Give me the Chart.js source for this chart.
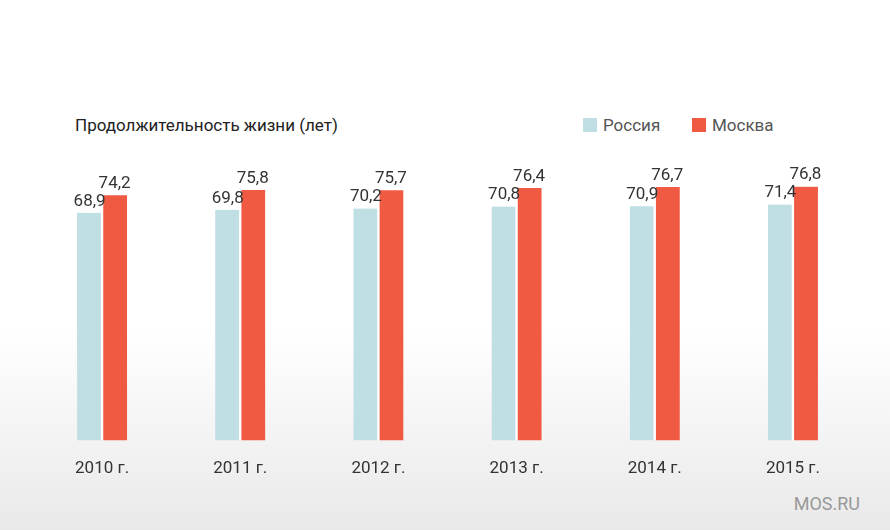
<!DOCTYPE html>
<html><head><meta charset="utf-8">
<script src="https://cdn.jsdelivr.net/npm/chart.js@4/dist/chart.umd.min.js"></script>
<style>
body{margin:0;width:890px;height:530px;overflow:hidden;font-family:"Liberation Sans Narrow","Roboto",sans-serif;
background:linear-gradient(#fff 0px,#fff 330px,#e9e9e9 530px);}
#wrap{position:absolute;left:0;top:0;width:890px;height:530px}
.t{position:absolute;color:#222;font-size:17px}
.sw{display:inline-block;width:14px;height:14px;vertical-align:-1px;margin-right:6px}
</style></head><body>
<div class="t" style="left:75px;top:115px">Продолжительность жизни (лет)</div>
<div class="t" style="left:583px;top:115px;color:#555"><span class="sw" style="background:#bfdfe5"></span>Россия</div>
<div class="t" style="left:692px;top:115px;color:#555"><span class="sw" style="background:#f05a42"></span>Москва</div>
<div class="t" style="right:30px;top:493px;color:#999;font-size:18px">MOS.RU</div>
<div id="wrap"><canvas id="c"></canvas></div>
<script>
var years = ["2010 г.", "2011 г.", "2012 г.", "2013 г.", "2014 г.", "2015 г."];
var russia = [68.9, 69.8, 70.2, 70.8, 70.9, 71.4];
var moscow = [74.2, 75.8, 75.7, 76.4, 76.7, 76.8];
var font = "'Liberation Sans Narrow', Roboto, sans-serif";

var valueLabels = {
  id: "valueLabels",
  afterDatasetsDraw: function (chart) {
    var ctx = chart.ctx;
    ctx.save();
    ctx.font = "17px " + font;
    ctx.fillStyle = "#333";
    ctx.textAlign = "center";
    ctx.textBaseline = "bottom";
    chart.data.datasets.forEach(function (ds, i) {
      chart.getDatasetMeta(i).data.forEach(function (bar, j) {
        ctx.fillText(ds.data[j].toFixed(1).replace(".", ","), bar.x, bar.y - 3);
      });
    });
    ctx.restore();
  }
};

new Chart(document.getElementById("c"), {
  type: "bar",
  data: {
    labels: years,
    datasets: [
      { label: "Россия", data: russia, backgroundColor: "#bfdfe5", borderColor: "#fff", borderWidth: { left: 0, right: 1.5 }, borderSkipped: false, barThickness: 25 },
      { label: "Москва", data: moscow, backgroundColor: "#f05a42", borderColor: "#fff", borderWidth: { left: 1.5, right: 0 }, borderSkipped: false, barThickness: 25 }
    ]
  },
  options: {
    responsive: true,
    maintainAspectRatio: false,
    animation: false,
    layout: { padding: { left: 33, right: 28, top: 110, bottom: 41 } },
    plugins: { legend: { display: false }, tooltip: { enabled: false } },
    scales: {
      x: {
        grid: { display: false },
        border: { display: false },
        ticks: { color: "#333", font: { family: font, size: 17 }, padding: 10 }
      },
      y: { display: false, min: 0, max: 100 }
    }
  },
  plugins: [valueLabels]
});
</script>
</body></html>
